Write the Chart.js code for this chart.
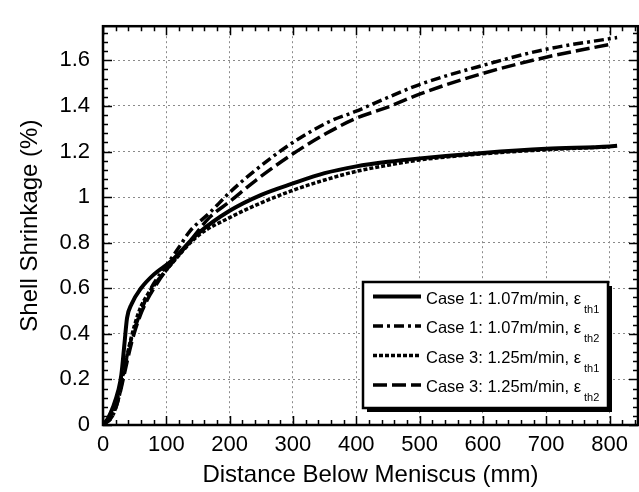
<!DOCTYPE html>
<html>
<head>
<meta charset="utf-8">
<script src="https://cdn.jsdelivr.net/npm/chart.js@4/dist/chart.umd.min.js"></script>
<style>
  html, body { margin: 0; padding: 0; background: #fff; }
  #wrap { width: 639px; height: 492px; }
</style>
</head>
<body>
<div id="wrap"><canvas id="myChart" width="639" height="492"></canvas></div>
<script>
//distance below meniscus (mm) and shrinkage (%) for each curve
var xCase1Th1 = [0, 8, 16, 24, 29, 34, 38, 45, 60, 80, 108, 150, 200, 250, 300, 350, 400, 450, 500, 600, 700, 800, 812];
var yCase1Th1 = [0, 0.03, 0.08, 0.15, 0.22, 0.36, 0.47, 0.53, 0.60, 0.66, 0.72, 0.84, 0.94, 1.01, 1.06, 1.105, 1.135, 1.155, 1.17, 1.194, 1.212, 1.222, 1.225];

var xCase1Th2 = [0, 15, 25, 34, 45, 56, 69, 80, 100, 120, 137, 168, 200, 237, 300, 358, 400, 432, 500, 600, 700, 800, 812];
var yCase1Th2 = [0, 0.04, 0.12, 0.25, 0.38, 0.47, 0.56, 0.62, 0.70, 0.78, 0.85, 0.93, 1.02, 1.11, 1.24, 1.332, 1.377, 1.416, 1.494, 1.578, 1.649, 1.695, 1.70];

var xCase3Th1 = [0, 10, 20, 30, 40, 50, 60, 80, 100, 150, 200, 250, 300, 350, 400, 450, 500, 600, 700, 800];
var yCase3Th1 = [0, 0.03, 0.09, 0.20, 0.33, 0.44, 0.52, 0.61, 0.68, 0.83, 0.91, 0.975, 1.03, 1.075, 1.113, 1.14, 1.163, 1.19, 1.208, 1.22];

var xCase3Th2 = [0, 15, 25, 35, 45, 56, 70, 85, 100, 130, 168, 200, 242, 300, 353, 400, 450, 500, 600, 700, 800];
var yCase3Th2 = [0, 0.04, 0.12, 0.24, 0.36, 0.46, 0.55, 0.62, 0.68, 0.78, 0.91, 0.98, 1.075, 1.19, 1.28, 1.346, 1.395, 1.452, 1.543, 1.614, 1.670];

//legend text, main part and subscript
var legendMain = ["Case 1: 1.07m/min, \u03b5", "Case 1: 1.07m/min, \u03b5", "Case 3: 1.25m/min, \u03b5", "Case 3: 1.25m/min, \u03b5"];
var legendSub = ["th1", "th2", "th1", "th2"];

//tick values
var xTicks = [0, 100, 200, 300, 400, 500, 600, 700, 800];
var yTicks = [0, 0.2, 0.4, 0.6, 0.8, 1, 1.2, 1.4, 1.6];

var FONT = "'Liberation Sans', Arial, Helvetica, sans-serif";

function toPoints(xs, ys){
    var pts = [];
    for(var i = 0; i < xs.length; i++){
        pts.push({x: xs[i], y: ys[i]});
    }
    return pts;
}

//line styles, same order as legend
var styles = [
    {dash: [], width: 4},
    {dash: [10, 4, 3, 4], width: 3.5},
    {dash: [4, 2], width: 3.5},
    {dash: [14, 5], width: 3.5}
];

var series = [
    toPoints(xCase1Th1, yCase1Th1),
    toPoints(xCase1Th2, yCase1Th2),
    toPoints(xCase3Th1, yCase3Th1),
    toPoints(xCase3Th2, yCase3Th2)
];

var datasets = series.map(function(pts, i){
    return {
        label: legendMain[i] + legendSub[i],
        data: pts,
        showLine: true,
        borderColor: "#000",
        borderWidth: styles[i].width,
        borderDash: styles[i].dash,
        pointRadius: 0,
        cubicInterpolationMode: "monotone",
        fill: false
    };
});

//frame with inward ticks on all four sides
var framePlugin = {
    id: "frame",
    afterDraw: function(chart){
        var ctx = chart.ctx, a = chart.chartArea;
        var xs = chart.scales.x, ys = chart.scales.y;
        ctx.save();
        ctx.strokeStyle = "#000";
        ctx.lineWidth = 1.5;
        ctx.beginPath();
        for(var v = 0; v <= 844; v += 20){
            var px = Math.round(xs.getPixelForValue(v)) + 0.5;
            var len = (v % 100 === 0) ? 9 : 5;
            ctx.moveTo(px, a.bottom); ctx.lineTo(px, a.bottom - len);
            ctx.moveTo(px, a.top); ctx.lineTo(px, a.top + len);
        }
        for(var k = 0; k <= 43; k++){
            var val = k * 0.04;
            var py = Math.round(ys.getPixelForValue(val)) + 0.5;
            var l2 = (k % 5 === 0) ? 9 : 5;
            ctx.moveTo(a.left, py); ctx.lineTo(a.left + l2, py);
            ctx.moveTo(a.right, py); ctx.lineTo(a.right - l2, py);
        }
        ctx.stroke();
        ctx.lineWidth = 2.5;
        ctx.strokeRect(a.left, a.top, a.right - a.left, a.bottom - a.top);
        ctx.restore();
    }
};

//boxed legend with shadow, lower right of plot
var legendPlugin = {
    id: "boxLegend",
    afterDraw: function(chart){
        var ctx = chart.ctx, a = chart.chartArea;
        var w = 245, h = 126;
        var x0 = a.right - 30 - w, y0 = a.bottom - 17 - h;
        ctx.save();
        ctx.fillStyle = "#000";
        ctx.fillRect(x0 + 4, y0 + 4, w, h);
        ctx.fillStyle = "#fff";
        ctx.fillRect(x0, y0, w, h);
        ctx.strokeStyle = "#000";
        ctx.lineWidth = 2.5;
        ctx.strokeRect(x0, y0, w, h);

        for(var i = 0; i < 4; i++){
            var ly = y0 + 14.5 + i * 29.5;
            ctx.beginPath();
            ctx.setLineDash(styles[i].dash);
            ctx.lineWidth = styles[i].width;
            ctx.moveTo(x0 + 10, ly);
            ctx.lineTo(x0 + 58, ly);
            ctx.stroke();
            ctx.setLineDash([]);

            ctx.fillStyle = "#000";
            ctx.textBaseline = "alphabetic";
            ctx.textAlign = "left";
            ctx.font = "16.5px " + FONT;
            ctx.fillText(legendMain[i], x0 + 63, ly + 7);
            var tw = ctx.measureText(legendMain[i]).width;
            ctx.font = "11px " + FONT;
            ctx.fillText(legendSub[i], x0 + 63 + tw + 3, ly + 16);
        }
        ctx.restore();
    }
};

var myChart = new Chart(document.getElementById("myChart"), {
    type: "scatter",
    data: { datasets: datasets },
    plugins: [framePlugin, legendPlugin],
    options: {
        responsive: false,
        animation: false,
        layout: { padding: { top: 12, right: 1, left: 0, bottom: 0 } },
        plugins: { legend: { display: false }, tooltip: { enabled: false } },
        scales: {
            x: {
                type: "linear",
                min: 0,
                max: 845,
                afterBuildTicks: function(scale){
                    scale.ticks = xTicks.map(function(v){ return {value: v}; });
                },
                afterFit: function(scale){ scale.height = 67; },
                grid: { color: "#8a8a8a", lineWidth: 1, drawTicks: false },
                border: { display: false, dash: [2, 3] },
                ticks: {
                    color: "#000",
                    padding: 7,
                    maxRotation: 0,
                    font: { family: FONT, size: 22 },
                    callback: function(v){ return String(v); }
                },
                title: {
                    display: true,
                    text: "Distance Below Meniscus (mm)",
                    color: "#000",
                    padding: { top: 0, bottom: 2 },
                    font: { family: FONT, size: 24 }
                }
            },
            y: {
                type: "linear",
                min: 0,
                max: 1.75,
                afterBuildTicks: function(scale){
                    scale.ticks = yTicks.map(function(v){ return {value: v}; });
                },
                afterFit: function(scale){ scale.width = 103; },
                grid: { color: "#8a8a8a", lineWidth: 1, drawTicks: false },
                border: { display: false, dash: [2, 3] },
                ticks: {
                    color: "#000",
                    padding: 13,
                    font: { family: FONT, size: 22 },
                    callback: function(v){ return String(+v.toFixed(1)); }
                },
                title: {
                    display: true,
                    text: "Shell Shrinkage (%)",
                    color: "#000",
                    padding: { top: 16, bottom: 0 },
                    font: { family: FONT, size: 24 }
                }
            }
        }
    }
});
</script>
</body>
</html>
